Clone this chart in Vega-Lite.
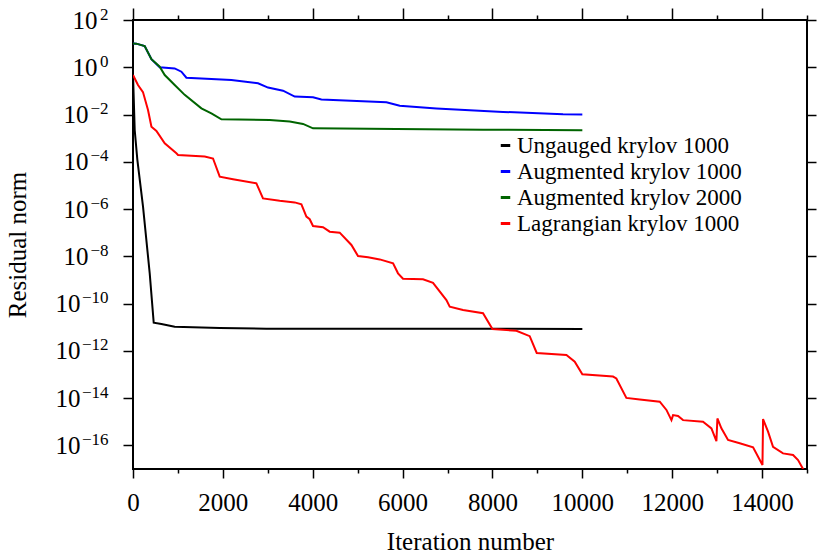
{
  "$schema": "https://vega.github.io/schema/vega-lite/v6.json",
  "width": 674,
  "height": 449,
  "autosize": {"type": "none"},
  "padding": {"left": 133, "top": 20, "right": 10, "bottom": 87},
  "background": "white",
  "config": {
    "view": {"stroke": "black", "strokeWidth": 2},
    "font": "Liberation Serif",
    "axis": {"labelFont": "Liberation Serif", "titleFont": "Liberation Serif", "labelColor": "black", "titleColor": "black", "tickColor": "black", "tickWidth": 1.5, "grid": false, "domain": false, "titleFontWeight": "normal", "labelOverlap": false, "labelFlush": false}
  },
  "data": {"values": [
    {"s": "Ungauged krylov 1000", "it": 0, "r": 0.5},
    {"s": "Ungauged krylov 1000", "it": 38, "r": 2.2e-3},
    {"s": "Ungauged krylov 1000", "it": 97, "r": 1.2e-4},
    {"s": "Ungauged krylov 1000", "it": 223, "r": 1.26e-6},
    {"s": "Ungauged krylov 1000", "it": 372, "r": 1.9e-9},
    {"s": "Ungauged krylov 1000", "it": 461, "r": 1.55e-11},
    {"s": "Ungauged krylov 1000", "it": 632, "r": 1.38e-11},
    {"s": "Ungauged krylov 1000", "it": 928, "r": 1.05e-11},
    {"s": "Ungauged krylov 1000", "it": 1930, "r": 9.3e-12},
    {"s": "Ungauged krylov 1000", "it": 2968, "r": 8.7e-12},
    {"s": "Ungauged krylov 1000", "it": 10000, "r": 8.5e-12},

    {"s": "Augmented krylov 1000", "it": 0, "r": 10.2},
    {"s": "Augmented krylov 1000", "it": 75, "r": 10},
    {"s": "Augmented krylov 1000", "it": 260, "r": 7.9},
    {"s": "Augmented krylov 1000", "it": 410, "r": 2.19},
    {"s": "Augmented krylov 1000", "it": 594, "r": 1.0},
    {"s": "Augmented krylov 1000", "it": 928, "r": 0.89},
    {"s": "Augmented krylov 1000", "it": 1077, "r": 0.65},
    {"s": "Augmented krylov 1000", "it": 1188, "r": 0.36},
    {"s": "Augmented krylov 1000", "it": 2190, "r": 0.29},
    {"s": "Augmented krylov 1000", "it": 2783, "r": 0.21},
    {"s": "Augmented krylov 1000", "it": 3005, "r": 0.138},
    {"s": "Augmented krylov 1000", "it": 3339, "r": 0.102},
    {"s": "Augmented krylov 1000", "it": 3599, "r": 0.0575},
    {"s": "Augmented krylov 1000", "it": 4006, "r": 0.0537},
    {"s": "Augmented krylov 1000", "it": 4193, "r": 0.0437},
    {"s": "Augmented krylov 1000", "it": 5640, "r": 0.0331},
    {"s": "Augmented krylov 1000", "it": 5936, "r": 0.0234},
    {"s": "Augmented krylov 1000", "it": 6753, "r": 0.0182},
    {"s": "Augmented krylov 1000", "it": 8235, "r": 0.0129},
    {"s": "Augmented krylov 1000", "it": 9570, "r": 0.0102},
    {"s": "Augmented krylov 1000", "it": 10000, "r": 0.0100},

    {"s": "Augmented krylov 2000", "it": 0, "r": 10.2},
    {"s": "Augmented krylov 2000", "it": 75, "r": 10},
    {"s": "Augmented krylov 2000", "it": 260, "r": 7.9},
    {"s": "Augmented krylov 2000", "it": 410, "r": 2.19},
    {"s": "Augmented krylov 2000", "it": 594, "r": 1.05},
    {"s": "Augmented krylov 2000", "it": 706, "r": 0.47},
    {"s": "Augmented krylov 2000", "it": 928, "r": 0.178},
    {"s": "Augmented krylov 2000", "it": 1150, "r": 0.068},
    {"s": "Augmented krylov 2000", "it": 1522, "r": 0.0182},
    {"s": "Augmented krylov 2000", "it": 1744, "r": 0.0112},
    {"s": "Augmented krylov 2000", "it": 1967, "r": 0.0063},
    {"s": "Augmented krylov 2000", "it": 3043, "r": 0.0059},
    {"s": "Augmented krylov 2000", "it": 3488, "r": 0.0051},
    {"s": "Augmented krylov 2000", "it": 3784, "r": 0.0040},
    {"s": "Augmented krylov 2000", "it": 4006, "r": 0.0026},
    {"s": "Augmented krylov 2000", "it": 5862, "r": 0.00245},
    {"s": "Augmented krylov 2000", "it": 7790, "r": 0.00229},
    {"s": "Augmented krylov 2000", "it": 10000, "r": 0.00214},

    {"s": "Lagrangian krylov 1000", "it": 0, "r": 0.468},
    {"s": "Lagrangian krylov 1000", "it": 111, "r": 0.178},
    {"s": "Lagrangian krylov 1000", "it": 222, "r": 0.0891},
    {"s": "Lagrangian krylov 1000", "it": 334, "r": 0.0155},
    {"s": "Lagrangian krylov 1000", "it": 410, "r": 0.00302},
    {"s": "Lagrangian krylov 1000", "it": 521, "r": 0.002},
    {"s": "Lagrangian krylov 1000", "it": 706, "r": 6.03e-4},
    {"s": "Lagrangian krylov 1000", "it": 966, "r": 2.29e-4},
    {"s": "Lagrangian krylov 1000", "it": 1002, "r": 1.95e-4},
    {"s": "Lagrangian krylov 1000", "it": 1596, "r": 1.66e-4},
    {"s": "Lagrangian krylov 1000", "it": 1781, "r": 1.38e-4},
    {"s": "Lagrangian krylov 1000", "it": 1930, "r": 2.34e-5},
    {"s": "Lagrangian krylov 1000", "it": 2226, "r": 1.82e-5},
    {"s": "Lagrangian krylov 1000", "it": 2746, "r": 1.23e-5},
    {"s": "Lagrangian krylov 1000", "it": 2893, "r": 2.82e-6},
    {"s": "Lagrangian krylov 1000", "it": 3265, "r": 2.24e-6},
    {"s": "Lagrangian krylov 1000", "it": 3599, "r": 1.91e-6},
    {"s": "Lagrangian krylov 1000", "it": 3748, "r": 1.58e-6},
    {"s": "Lagrangian krylov 1000", "it": 3859, "r": 4.79e-7},
    {"s": "Lagrangian krylov 1000", "it": 3933, "r": 3.72e-7},
    {"s": "Lagrangian krylov 1000", "it": 4006, "r": 1.91e-7},
    {"s": "Lagrangian krylov 1000", "it": 4229, "r": 1.70e-7},
    {"s": "Lagrangian krylov 1000", "it": 4378, "r": 1.10e-7},
    {"s": "Lagrangian krylov 1000", "it": 4600, "r": 1.0e-7},
    {"s": "Lagrangian krylov 1000", "it": 4861, "r": 3.02e-8},
    {"s": "Lagrangian krylov 1000", "it": 5008, "r": 1.02e-8},
    {"s": "Lagrangian krylov 1000", "it": 5231, "r": 9.12e-9},
    {"s": "Lagrangian krylov 1000", "it": 5491, "r": 7.41e-9},
    {"s": "Lagrangian krylov 1000", "it": 5788, "r": 5.01e-9},
    {"s": "Lagrangian krylov 1000", "it": 5898, "r": 1.91e-9},
    {"s": "Lagrangian krylov 1000", "it": 6009, "r": 1.12e-9},
    {"s": "Lagrangian krylov 1000", "it": 6454, "r": 1.07e-9},
    {"s": "Lagrangian krylov 1000", "it": 6677, "r": 7.59e-10},
    {"s": "Lagrangian krylov 1000", "it": 6975, "r": 1.41e-10},
    {"s": "Lagrangian krylov 1000", "it": 7049, "r": 7.41e-11},
    {"s": "Lagrangian krylov 1000", "it": 7345, "r": 5.37e-11},
    {"s": "Lagrangian krylov 1000", "it": 7790, "r": 3.89e-11},
    {"s": "Lagrangian krylov 1000", "it": 7999, "r": 8.32e-12},
    {"s": "Lagrangian krylov 1000", "it": 8533, "r": 7.08e-12},
    {"s": "Lagrangian krylov 1000", "it": 8829, "r": 4.17e-12},
    {"s": "Lagrangian krylov 1000", "it": 8985, "r": 8.13e-13},
    {"s": "Lagrangian krylov 1000", "it": 9646, "r": 6.61e-13},
    {"s": "Lagrangian krylov 1000", "it": 9831, "r": 3.47e-13},
    {"s": "Lagrangian krylov 1000", "it": 10000, "r": 1.02e-13},
    {"s": "Lagrangian krylov 1000", "it": 10683, "r": 8.13e-14},
    {"s": "Lagrangian krylov 1000", "it": 10757, "r": 6.76e-14},
    {"s": "Lagrangian krylov 1000", "it": 10980, "r": 1.02e-14},
    {"s": "Lagrangian krylov 1000", "it": 11278, "r": 8.71e-15},
    {"s": "Lagrangian krylov 1000", "it": 11723, "r": 7.08e-15},
    {"s": "Lagrangian krylov 1000", "it": 11872, "r": 3.16e-15},
    {"s": "Lagrangian krylov 1000", "it": 11983, "r": 1.17e-15},
    {"s": "Lagrangian krylov 1000", "it": 12019, "r": 1.91e-15},
    {"s": "Lagrangian krylov 1000", "it": 12130, "r": 1.74e-15},
    {"s": "Lagrangian krylov 1000", "it": 12241, "r": 1.17e-15},
    {"s": "Lagrangian krylov 1000", "it": 12686, "r": 1.0e-15},
    {"s": "Lagrangian krylov 1000", "it": 12873, "r": 5.25e-16},
    {"s": "Lagrangian krylov 1000", "it": 12984, "r": 1.51e-16},
    {"s": "Lagrangian krylov 1000", "it": 13006, "r": 1.38e-15},
    {"s": "Lagrangian krylov 1000", "it": 13095, "r": 5.25e-16},
    {"s": "Lagrangian krylov 1000", "it": 13243, "r": 1.70e-16},
    {"s": "Lagrangian krylov 1000", "it": 13503, "r": 1.23e-16},
    {"s": "Lagrangian krylov 1000", "it": 13800, "r": 8.32e-17},
    {"s": "Lagrangian krylov 1000", "it": 14009, "r": 1.48e-17},
    {"s": "Lagrangian krylov 1000", "it": 14022, "r": 1.29e-15},
    {"s": "Lagrangian krylov 1000", "it": 14133, "r": 3.80e-16},
    {"s": "Lagrangian krylov 1000", "it": 14244, "r": 8.71e-17},
    {"s": "Lagrangian krylov 1000", "it": 14467, "r": 4.57e-17},
    {"s": "Lagrangian krylov 1000", "it": 14690, "r": 3.89e-17},
    {"s": "Lagrangian krylov 1000", "it": 14801, "r": 2.40e-17},
    {"s": "Lagrangian krylov 1000", "it": 14912, "r": 1.0e-17},
    {"s": "Lagrangian krylov 1000", "it": 14950, "r": 8e-18}
  ]},
  "layer": [
    {
      "mark": {"type": "line", "strokeWidth": 2, "clip": true},
      "encoding": {
        "x": {"field": "it", "type": "quantitative",
          "scale": {"domain": [0, 15000], "nice": false, "zero": false},
          "axis": {"orient": "bottom", "values": [0,1000,2000,3000,4000,5000,6000,7000,8000,9000,10000,11000,12000,13000,14000,15000],
            "labelExpr": "datum.value % 2000 == 0 && datum.value < 15000 ? format(datum.value, 'd') : ''",
            "tickSize": {"condition": {"test": "datum.value % 2000 == 0", "value": 9}, "value": 4},
            "labelFontSize": 25, "labelPadding": 12,
            "title": "Iteration number", "titleFontSize": 25, "titlePadding": 14}},
        "y": {"field": "r", "type": "quantitative",
          "scale": {"type": "log", "domain": [1e-17, 100], "nice": false},
          "axis": {"orient": "left", "values": [1e-16,1e-14,1e-12,1e-10,1e-8,1e-6,1e-4,1e-2,1,100],
            "labelExpr": "'10'",
            "labelAlign": "right",
            "labelPadding": {"condition": [
              {"test": "datum.value >= 0.5", "value": 26},
              {"test": "datum.value > 1e-9", "value": 35}
            ], "value": 43},
            "tickSize": 10, "labelFontSize": 25,
            "title": "Residual norm", "titleFontSize": 25, "titlePadding": 25}},
        "color": {"field": "s", "type": "nominal",
          "scale": {"domain": ["Ungauged krylov 1000", "Augmented krylov 1000", "Augmented krylov 2000", "Lagrangian krylov 1000"],
                    "range": ["#000000", "#0000ff", "#006400", "#ff0000"]},
          "legend": {"orient": "none", "legendX": 361, "legendY": 114, "title": null, "symbolType": "stroke", "symbolSize": 90, "symbolStrokeWidth": 3,
                     "labelFont": "Liberation Serif", "labelFontSize": 23, "labelColor": "black", "labelLimit": 400, "labelOffset": 0, "rowPadding": 2, "padding": 0}}
      }
    },
    {
      "mark": {"type": "point", "opacity": 0},
      "encoding": {
        "x": {"field": "it", "type": "quantitative",
          "scale": {"domain": [0, 15000], "nice": false, "zero": false},
          "axis": {"orient": "top", "values": [0,1000,2000,3000,4000,5000,6000,7000,8000,9000,10000,11000,12000,13000,14000,15000],
            "labels": false, "title": null,
            "tickSize": {"condition": {"test": "datum.value % 2000 == 0", "value": 12}, "value": 5}}},
        "y": {"field": "r", "type": "quantitative",
          "scale": {"type": "log", "domain": [1e-17, 100], "nice": false},
          "axis": {"orient": "right", "values": [1e-16,1e-14,1e-12,1e-10,1e-8,1e-6,1e-4,1e-2,1,100], "labels": false, "title": null, "tickSize": 9}}
      }
    },
    {
      "mark": {"type": "point", "opacity": 0},
      "encoding": {
        "y": {"field": "r", "type": "quantitative",
          "scale": {"type": "log", "domain": [1e-17, 100], "nice": false},
          "axis": {"orient": "left", "values": [1e-16,1e-14,1e-12,1e-10,1e-8,1e-6,1e-4,1e-2,1,100],
            "labelExpr": "(datum.value < 0.5 ? '−' : '') + format(abs(round(log(datum.value)/LN10)), 'd')",
            "labelAlign": "right", "labelPadding": 25, "labelOffset": -6, "labelFontSize": 17,
            "ticks": false, "title": null}}
      }
    }
  ],
  "resolve": {"axis": {"x": "independent", "y": "independent"}}
}
